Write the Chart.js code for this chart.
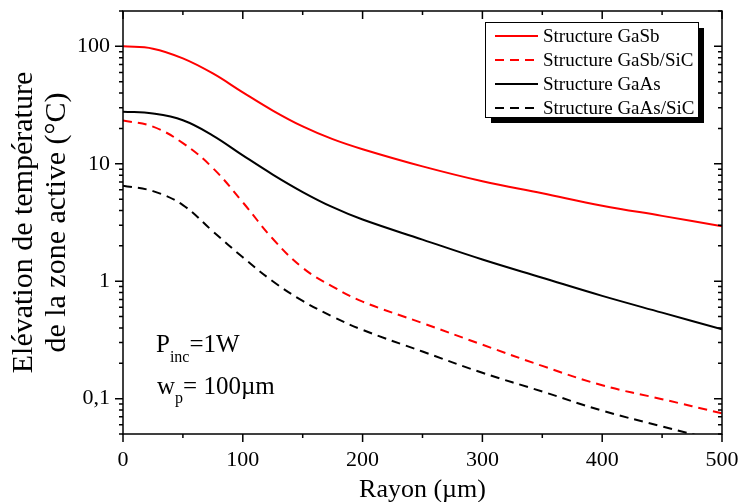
<!DOCTYPE html>
<html>
<head>
<meta charset="utf-8">
<script src="https://cdn.jsdelivr.net/npm/chart.js@4.4.0/dist/chart.umd.min.js"></script>
<style>
  html, body { margin: 0; padding: 0; background: #fff; }
  #wrap { width: 740px; height: 502px; }
</style>
</head>
<body>
<div id="wrap"><canvas id="c" width="740" height="502"></canvas></div>
<script>
// Rayon (µm) and temperature rise (°C)
const rayon = [0, 25, 50, 75, 100, 125, 150, 175, 200, 250, 300, 350, 400, 450, 500];
const gaSb = [100, 95.6, 79, 58.8, 40.6, 28.4, 20.8, 16.2, 13.3, 9.5, 7.1, 5.6, 4.4, 3.6, 2.94];
const gaSbSiC = [23.4, 20.7, 15, 9.2, 4.7, 2.3, 1.3, 0.9, 0.67, 0.44, 0.288, 0.19, 0.13, 0.099, 0.075];
const gaAs = [27.8, 26.8, 23.5, 17.4, 11.8, 8.1, 5.75, 4.27, 3.35, 2.26, 1.53, 1.07, 0.75, 0.54, 0.39];
const gaAsSiC = [6.5, 5.85, 4.45, 2.66, 1.6, 1.0, 0.68, 0.5, 0.385, 0.252, 0.166, 0.115, 0.079, 0.058, 0.043];
const seriesNames = ['Structure GaSb', 'Structure GaSb/SiC', 'Structure GaAs', 'Structure GaAs/SiC'];
const xTickLabels = [0, 100, 200, 300, 400, 500];
const yTicks = [0.1, 1, 10, 100];
const yTickLabels = ['0,1', '1', '10', '100'];

const FONT = 'Liberation Serif';
const AREA = { left: 123, top: 11, right: 722, bottom: 434 };

const pts = vals => rayon.map((r, i) => ({ x: r, y: vals[i] }));

// minor ticks 1..9 per decade, inside 0.05..200
const yAllTicks = [];
[0.01, 0.1, 1, 10, 100].forEach(d => {
  for (let k = 1; k <= 9; k++) {
    const v = Number((k * d).toPrecision(6));
    if (v >= 0.05 && v <= 200) yAllTicks.push(v);
  }
});
const isMajorY = v => yTicks.some(t => Math.abs(t - v) / t < 1e-6);

const noPad = s => { s.paddingTop = 0; s.paddingBottom = 0; s.paddingLeft = 0; s.paddingRight = 0; };

const framePlugin = {
  id: 'frame',
  afterDatasetsDraw(chart) {
    const { ctx, chartArea: a, scales: { x, y } } = chart;
    ctx.save();
    ctx.strokeStyle = '#000';
    ctx.lineWidth = 1.5;
    ctx.strokeRect(a.left, a.top, a.right - a.left, a.bottom - a.top);
    ctx.beginPath();
    x.ticks.forEach(t => {
      const px = x.getPixelForValue(t.value);
      const len = t.value % 100 === 0 ? 8 : 4;
      ctx.moveTo(px, a.bottom); ctx.lineTo(px, a.bottom + len);
      ctx.moveTo(px, a.top); ctx.lineTo(px, a.top + len);
    });
    y.ticks.forEach(t => {
      const py = y.getPixelForValue(t.value);
      const len = isMajorY(t.value) ? 8 : 4;
      ctx.moveTo(a.left, py); ctx.lineTo(a.left - len, py);
      ctx.moveTo(a.right, py); ctx.lineTo(a.right - len, py);
    });
    ctx.stroke();

    // legend box with drop shadow
    const bx = 485, by = 22, bw = 213, bh = 95;
    ctx.fillStyle = '#000';
    ctx.fillRect(bx + 6, by + 6, bw, bh);
    ctx.fillStyle = '#fff';
    ctx.fillRect(bx, by, bw, bh);
    ctx.lineWidth = 1;
    ctx.strokeRect(bx + 0.5, by + 0.5, bw, bh);
    ctx.font = '19px "' + FONT + '"';
    ctx.textBaseline = 'middle';
    ctx.textAlign = 'left';
    chart.data.datasets.forEach((ds, i) => {
      const ly = by + 14 + i * 24;
      ctx.beginPath();
      ctx.strokeStyle = ds.borderColor;
      ctx.lineWidth = 2;
      ctx.setLineDash(ds.borderDash || []);
      ctx.moveTo(bx + 10, ly); ctx.lineTo(bx + 53, ly);
      ctx.stroke();
      ctx.setLineDash([]);
      ctx.fillStyle = '#000';
      ctx.fillText(ds.label, bx + 58, ly + 1);
    });

    // annotation
    ctx.fillStyle = '#000';
    ctx.textBaseline = 'alphabetic';
    const tx = a.left + 33;
    ctx.font = '25px "' + FONT + '"';
    ctx.fillText('P', tx, 352);
    let w = ctx.measureText('P').width;
    ctx.font = '16px "' + FONT + '"';
    ctx.fillText('inc', tx + w, 362);
    w += ctx.measureText('inc').width;
    ctx.font = '25px "' + FONT + '"';
    ctx.fillText('=1W', tx + w, 352);

    ctx.fillText('w', tx + 1, 394);
    w = ctx.measureText('w').width + 1;
    ctx.font = '16px "' + FONT + '"';
    ctx.fillText('p', tx + w, 403);
    w += ctx.measureText('p').width;
    ctx.font = '25px "' + FONT + '"';
    ctx.fillText('= 100\u00b5m', tx + w, 394);
    ctx.restore();
  }
};

const lineDs = (label, vals, color, dash) => ({
  label,
  data: pts(vals),
  borderColor: color,
  borderWidth: 2,
  borderDash: dash,
  pointRadius: 0,
  fill: false,
  tension: 0.4
});

new Chart(document.getElementById('c'), {
  type: 'line',
  data: {
    datasets: [
      lineDs(seriesNames[0], gaSb, '#ff0000', []),
      lineDs(seriesNames[1], gaSbSiC, '#ff0000', [9, 6]),
      lineDs(seriesNames[2], gaAs, '#000000', []),
      lineDs(seriesNames[3], gaAsSiC, '#000000', [9, 6])
    ]
  },
  options: {
    responsive: false,
    animation: false,
    layout: { padding: { left: 0, top: AREA.top, right: 740 - AREA.right, bottom: 0 } },
    plugins: { legend: { display: false }, tooltip: { enabled: false } },
    scales: {
      x: {
        type: 'linear',
        min: 0,
        max: 500,
        grid: { display: false, drawTicks: false },
        border: { display: false },
        afterFit: s => { s.height = 502 - AREA.bottom; noPad(s); },
        ticks: {
          stepSize: 50,
          autoSkip: false,
          maxRotation: 0,
          padding: 13,
          color: '#000',
          font: { family: FONT, size: 22 },
          callback: v => (xTickLabels.includes(v) ? String(v) : '')
        },
        title: {
          display: true,
          text: 'Rayon (\u00b5m)',
          color: '#000',
          font: { family: FONT, size: 26 },
          padding: { top: 0, bottom: -4 }
        }
      },
      y: {
        type: 'logarithmic',
        min: 0.05,
        max: 200,
        grid: { display: false, drawTicks: false },
        border: { display: false },
        afterFit: s => { s.width = AREA.left; noPad(s); },
        afterBuildTicks: s => { s.ticks = yAllTicks.map(v => ({ value: v, major: isMajorY(v) })); },
        ticks: {
          autoSkip: false,
          padding: 13,
          color: '#000',
          font: { family: FONT, size: 22 },
          callback: v => {
            const i = yTicks.findIndex(t => Math.abs(t - v) / t < 1e-6);
            return i >= 0 ? yTickLabels[i] : '';
          }
        },
        title: {
          display: true,
          text: ['El\u00e9vation de temp\u00e9rature', 'de la zone active (\u00b0C)'],
          color: '#000',
          font: { family: FONT, size: 30, lineHeight: 1.1 },
          padding: { top: 8, bottom: 0 }
        }
      }
    }
  },
  plugins: [framePlugin]
});
</script>
</body>
</html>
